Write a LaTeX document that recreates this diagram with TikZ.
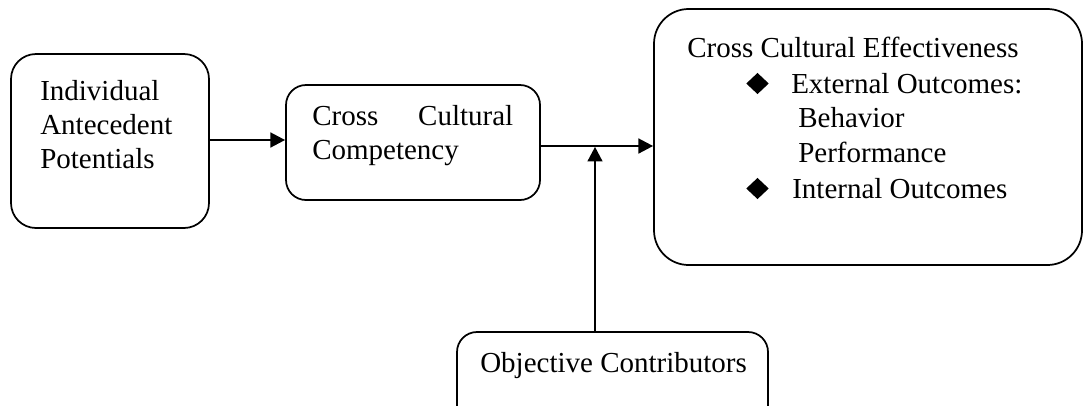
\documentclass[tikz,border=0pt]{standalone}
\usepackage{fontspec}
\setmainfont{Liberation Serif}
\usetikzlibrary{arrows.meta,shapes.geometric}
\begin{document}
\begin{tikzpicture}[x=0.75pt,y=-0.75pt,
  box/.style={draw,line width=1.3pt,inner sep=0pt,rounded corners=#1},
  box/.default=15pt,
  txt/.style={inner sep=0pt,anchor=base west,font=\fontsize{21.75pt}{26pt}\selectfont},
  bullet/.style={shape=diamond,fill=black,inner sep=0pt,minimum width=17pt,minimum height=16pt},
  link/.style={line width=1.9pt,-{Triangle[length=11pt,width=11pt]}}]
\useasboundingbox (0,0) rectangle (1087,405);

% boxes
\node[box=18.75pt,minimum width=148.5pt,minimum height=130.5pt] (b1) at (110,141) {};
\node[box=15pt,minimum width=190.5pt,minimum height=86.25pt] (b2) at (413,142.5) {};
\node[box=26pt,minimum width=321pt,minimum height=192pt] (b3) at (868,137) {};
\node[box=15pt,minimum width=233.25pt,minimum height=69.75pt] (b4) at (612.5,378.5) {};

% box texts
\node[txt] (t1a) at (40,100) {Individual};
\node[txt] (t1b) at (40,134) {Antecedent};
\node[txt] (t1c) at (40,168) {Potentials};

\node[txt] (t2a) at (312,125) {\hbox to 150.75pt{Cross\hfill Cultural}};
\node[txt] (t2b) at (312,159) {Competency};

\node[txt] (t3a) at (687,57) {Cross Cultural Effectiveness};
\node[bullet] (d1) at (757.5,83.5) {};
\node[txt] (t3b) at (791,93) {External Outcomes:};
\node[txt] (t3c) at (798,127) {Behavior};
\node[txt] (t3d) at (798,162) {Performance};
\node[bullet] (d2) at (757.5,188.5) {};
\node[txt] (t3e) at (792,198) {Internal Outcomes};

\node[txt] (t4) at (480,372) {Objective Contributors};

% connectors
\coordinate (j) at (595,146);
\draw[link] (b1.east |- 0,140) -- (b2.west |- 0,140);
\draw[link] (j -| b2.east) -- (j -| b3.west);
\draw[link] (j |- b4.north) -- ([yshift=-0.6pt]j);
\end{tikzpicture}
\end{document}
